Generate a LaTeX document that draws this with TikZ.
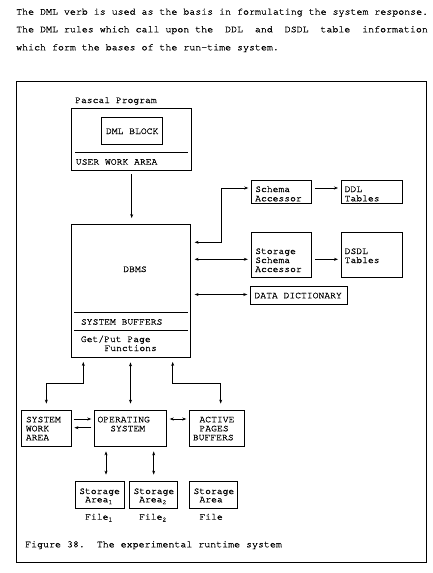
\documentclass[tikz,border=0pt]{standalone}
\usepackage{fontspec}
\setmainfont{TeX Gyre Cursor}[FakeBold=0.8]
\usetikzlibrary{fit,arrows.meta}
\newcommand{\sbs}[1]{\raisebox{-1.8pt}{\fontsize{6.5}{6.5}\selectfont #1}}
\begin{document}
\begin{tikzpicture}[x=1pt,y=-1pt,
  box/.style={draw, line width=0.8pt, inner sep=0pt},
  txt/.style={anchor=base west, inner sep=0pt, font=\fontsize{9.7}{9}\selectfont},
  bigtxt/.style={anchor=base west, inner sep=0pt, font=\fontsize{9.95}{10}\selectfont},
  tip/.tip={Stealth[length=4pt,width=3pt]},
  arr/.style={line width=0.7pt, -tip},
  barr/.style={line width=0.7pt, tip-tip},
  rule/.style={line width=0.8pt}]
\useasboundingbox (0,0) rectangle (432,573);

% introductory text
\node[bigtxt] (l1) at (16,14.7) {The DML verb is used as the basis in formulating the system response.};
\node[bigtxt] (l2) at (16,32.3) {\makebox[411.7pt][l]{The DML rules which call upon the \hfill DDL \hfill and \hfill DSDL \hfill table \hfill information}};
\node[bigtxt] (l3) at (16,50.3) {which form the bases of the run-time system.};

% frame
\node[box, fit={(16.5,81.7) (426.7,562.3)}] (frame) {};

% Pascal program
\node[txt] (pplbl) at (75,103) {Pascal Program};
\node[box, fit={(71.7,108) (191.7,170.7)}] (pp) {};
\node[box, fit={(101.7,117) (162.7,144)}] (dml) {};
\node[txt, anchor=base] (dmltxt) at (132.2,134) {DML BLOCK};
\draw[rule] (75,152.7) -- (188.3,152.7);
\node[txt] (uwa) at (75.7,164.7) {USER WORK AREA};

% DBMS
\node[box, fit={(71.5,224) (190.7,357)}] (dbms) {};
\node[txt, anchor=base] (dbmstxt) at (135,272) {DBMS};
\draw[rule] (74,312.3) -- (187.7,312.3);
\draw[rule] (74,330) -- (187.7,330);
\node[txt] (sbuf) at (80.7,324.7) {SYSTEM BUFFERS};
\node[txt] (gp1) at (80.7,342) {Get/Put Page};
\node[txt] (gp2) at (104.3,351) {Functions};

\draw[arr, shorten <=3pt, shorten >=5.5pt] (pp.south) -- (pp.south |- dbms.north);

% right side
\node[box, fit={(251.7,180) (311.7,203.3)}] (sa) {};
\node[txt] (sa1t) at (255,192) {Schema};
\node[txt] (sa2t) at (255,201.3) {Accessor};
\node[box, fit={(341.7,180) (402.5,203.3)}] (ddl) {};
\node[txt] (ddl1) at (344.5,192) {DDL};
\node[txt] (ddl2) at (344.5,201.3) {Tables};

\node[box, fit={(251.7,232.7) (311.7,277.3)}] (ssa) {};
\node[txt] (ssa1) at (255,254) {Storage};
\node[txt] (ssa2) at (255,263) {Schema};
\node[txt] (ssa3) at (255,272) {Accessor};
\node[box, fit={(341.7,232.7) (402.5,277.3)}] (dsdl) {};
\node[txt] (dsdl1) at (344.5,254) {DSDL};
\node[txt] (dsdl2) at (344.5,263) {Tables};

\node[box, fit={(250.7,286) (347.3,304.3)}] (dd) {};
\node[txt] (ddt) at (254.3,298.3) {DATA DICTIONARY};

\coordinate (k1) at (221.7,242.3);
\coordinate (k2) at (221.7,188);
\draw[barr, shorten <=3.5pt, shorten >=3pt] (dbms.east |- k1) -- (k1) -- (k2) -- (sa.west |- k2);
\coordinate (k3) at (230,259.3);
\draw[barr, shorten <=3.5pt, shorten >=3.5pt] (dbms.east |- k3) -- (ssa.west |- k3);
\coordinate (k4) at (230,294.5);
\draw[barr, shorten <=3.5pt, shorten >=3pt] (dbms.east |- k4) -- (dd.west |- k4);
\draw[arr, shorten <=2.7pt, shorten >=3.3pt] (sa.east |- k2) -- (ddl.west |- k2);
\draw[arr, shorten <=2.7pt, shorten >=3.3pt] (ssa.east |- k3) -- (dsdl.west |- k3);

% bottom row
\node[box, fit={(21.7,410) (71,446)}] (swa) {};
\node[txt] (swa1) at (25.7,422.3) {SYSTEM};
\node[txt] (swa2) at (25.7,431.3) {WORK};
\node[txt] (swa3) at (25.7,440.3) {AREA};
\node[box, fit={(94.3,410) (166.7,446)}] (os) {};
\node[txt] (os1) at (97.3,422.3) {OPERATING};
\node[txt] (os2) at (110,431.3) {SYSTEM};
\node[box, fit={(189.3,410) (244.3,446)}] (apb) {};
\node[txt] (apb1) at (199.3,422.3) {ACTIVE};
\node[txt] (apb2) at (199.3,431.3) {PAGES};
\node[txt] (apb3) at (192.7,440.3) {BUFFERS};

\coordinate (bl) at (83.3,383);
\draw[barr, shorten <=4.5pt, shorten >=6pt] (dbms.south -| bl) -- (bl) -| (swa.north);
\draw[barr, shorten <=5pt, shorten >=6pt] (dbms.south -| os.north) -- (os.north);
\coordinate (br) at (172.7,383);
\coordinate (br2) at (220.7,383);
\draw[barr, shorten <=4.5pt, shorten >=6pt] (dbms.south -| br) -- (br) -- (br2) -- (apb.north -| br2);

\coordinate (h1) at (80,419);
\coordinate (h2) at (80,427.7);
\draw[arr, shorten <=2.3pt, shorten >=2.6pt] (swa.east |- h1) -- (os.west |- h1);
\draw[arr, shorten <=2.6pt, shorten >=3pt] (os.west |- h2) -- (swa.east |- h2);
\draw[barr, shorten <=2.6pt, shorten >=2.6pt] (os.east |- h1) -- (apb.west |- h1);

% storage areas
\node[box, fit={(75.7,481) (124,508.3)}] (st1) {};
\node[txt] (st1a) at (79,494) {Storage};
\node[txt] (st1b) at (85,502.3) {Area\sbs{1}};
\node[box, fit={(129.3,481) (177.7,508.3)}] (st2) {};
\node[txt] (st2a) at (133.3,494) {Storage};
\node[txt] (st2b) at (139,502.3) {Area\sbs{2}};
\node[box, fit={(189.3,481) (237.7,508.3)}] (st3) {};
\node[txt] (st3a) at (193.3,494) {Storage};
\node[txt] (st3b) at (199.3,502.3) {Area};

\coordinate (d1) at (106,460);
\coordinate (d2) at (153.7,460);
\draw[barr, shorten <=5pt, shorten >=6pt] (os.south -| d1) -- (st1.north -| d1);
\draw[barr, shorten <=5pt, shorten >=6pt] (os.south -| d2) -- (st2.north -| d2);

\node[txt] (f1) at (85,519.7) {File\sbs{1}};
\node[txt] (f2) at (139,519.7) {File\sbs{2}};
\node[txt] (f3) at (199.3,519.7) {File};

% caption
\node[bigtxt] (cap) at (25,547.3) {Figure 38.\ \ The experimental runtime system};
\end{tikzpicture}
\end{document}
